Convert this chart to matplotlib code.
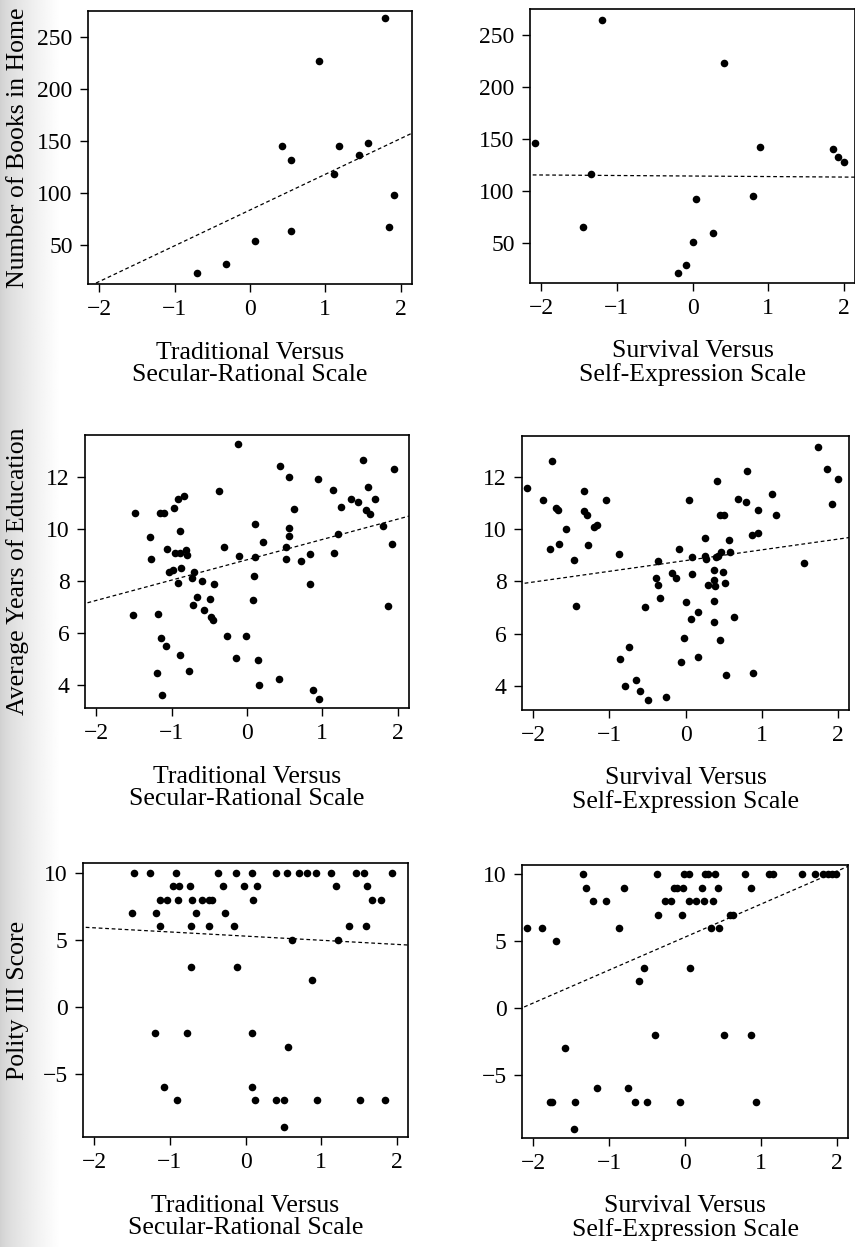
import matplotlib
matplotlib.use('Agg')
import matplotlib.pyplot as plt
import numpy as np

plt.rcParams['font.family'] = ['Liberation Serif', 'DejaVu Serif']

# --- data ---
trad_label = "Traditional Versus\nSecular-Rational Scale"
surv_label = "Survival Versus\nSelf-Expression Scale"

books_trad_x = [-0.71, -0.32, 0.06, 0.42, 0.54, 0.54, 0.91, 1.12, 1.18, 1.44, 1.57, 1.79, 1.84, 1.91]
books_trad_y = [24, 32, 54, 145, 132, 63.5, 227, 119, 145.5, 136.5, 148.7, 268, 68, 98]
books_trad_fit = [84.0, 34.3]

books_surv_x = [-2.09, -1.45, -1.34, -1.20, -0.19, -0.09, 0.00, 0.04, 0.27, 0.42, 0.80, 0.89, 1.86, 1.93, 2.01]
books_surv_y = [145.7, 65.6, 116.7, 264.4, 21, 29, 51, 92.7, 60, 223, 95, 142, 140.6, 132.6, 127.5]
books_surv_fit = [114.3, -0.5]

edu_trad_x = [-1.49, -1.51, -1.29, -1.27, -1.20, -1.18, -1.15, -1.10, -1.13, -1.14,
              -1.08, -1.06, -1.04, -0.98, -0.97, -0.96, -0.91, -0.92, -0.89, -0.89,
              -0.88, -0.89, -0.84, -0.81, -0.80, -0.77, -0.73, -0.71, -0.72, -0.67,
              -0.60, -0.57, -0.49, -0.48, -0.45, -0.44, -0.37, -0.30, -0.27, -0.15,
              -0.12, -0.11, -0.01, 0.08, 0.09, 0.11, 0.11, 0.14, 0.16, 0.21,
              0.42, 0.44, 0.52, 0.52, 0.56, 0.56, 0.56, 0.62, 0.72, 0.83,
              0.84, 0.88, 0.94, 0.95, 1.14, 1.16, 1.21, 1.25, 1.38, 1.47,
              1.54, 1.58, 1.60, 1.63, 1.70, 1.81, 1.87, 1.93, 1.95]
edu_trad_y = [10.60, 6.70, 9.67, 8.85, 4.46, 6.73, 10.60, 10.60, 3.63, 5.82,
              5.51, 9.22, 8.35, 8.43, 10.81, 9.06, 11.14, 7.93, 9.93, 9.06,
              8.51, 5.16, 11.24, 9.20, 9.00, 4.54, 8.10, 8.35, 7.06, 7.40,
              8.00, 6.89, 7.30, 6.61, 6.51, 7.87, 11.45, 9.31, 5.87, 5.05,
              13.25, 8.97, 5.89, 7.28, 8.17, 8.90, 10.18, 4.95, 3.99, 9.48,
              4.23, 12.40, 9.30, 8.84, 11.99, 10.04, 9.73, 10.77, 8.77, 9.03,
              7.89, 3.81, 11.91, 3.48, 11.50, 9.07, 9.81, 10.82, 11.16, 11.03,
              12.63, 10.72, 11.60, 10.58, 11.16, 10.11, 7.05, 9.43, 12.28]
edu_trad_fit = [8.81, 0.78]

edu_surv_x = [-2.09, -1.88, -1.78, -1.75, -1.70, -1.68, -1.66, -1.57, -1.46, -1.44,
              -1.34, -1.34, -1.30, -1.28, -1.20, -1.16, -1.04, -0.88, -0.86, -0.80,
              -0.74, -0.65, -0.60, -0.53, -0.49, -0.39, -0.36, -0.36, -0.34, -0.25,
              -0.18, -0.13, -0.08, -0.06, -0.02, 0.00, 0.05, 0.07, 0.08, 0.09,
              0.16, 0.16, 0.25, 0.26, 0.27, 0.30, 0.37, 0.37, 0.38, 0.38,
              0.39, 0.40, 0.42, 0.43, 0.45, 0.45, 0.47, 0.50, 0.49, 0.52,
              0.53, 0.57, 0.58, 0.64, 0.69, 0.80, 0.81, 0.88, 0.89, 0.95,
              0.95, 1.14, 1.19, 1.56, 1.74, 1.86, 1.93, 2.01]
edu_surv_y = [11.59, 11.13, 9.26, 12.60, 10.82, 10.74, 9.45, 10.00, 8.82, 7.05,
              11.48, 10.70, 10.55, 9.41, 10.09, 10.15, 11.13, 9.04, 5.02, 3.98,
              5.48, 4.21, 3.79, 7.01, 3.47, 8.12, 8.80, 7.87, 7.36, 3.59,
              8.31, 8.15, 9.24, 4.90, 5.85, 7.22, 11.11, 6.58, 8.94, 8.30,
              6.85, 5.11, 8.99, 9.68, 8.85, 7.87, 8.44, 8.05, 7.24, 6.44,
              7.82, 8.95, 11.85, 8.98, 10.55, 5.76, 9.14, 10.55, 8.36, 7.94,
              4.41, 9.59, 9.14, 6.64, 11.17, 11.06, 12.22, 9.77, 4.49, 9.86,
              10.74, 11.36, 10.55, 8.72, 13.15, 12.32, 10.95, 11.91]
edu_surv_fit = [8.80, 0.41]

polity_trad_x = [-1.48, -1.26, -0.92, -0.37, -0.13, 0.08, 0.41, 0.55, 0.71, 0.81, 0.93, 1.13, 1.46, 1.57, 1.94,
                 -0.96, -0.88, -0.73, -0.30, -0.02, 0.15, 1.20, 1.61,
                 -1.13, -1.04, -0.89, -0.71, -0.58, -0.48, -0.44, 0.10, 1.68, 1.79,
                 -1.50, -1.18, -0.66, -0.27,
                 -1.13, -0.72, -0.48, -0.15, 1.37, 1.59,
                 0.62, 1.23,
                 -0.72, -0.11,
                 0.88,
                 -1.20, -0.77, 0.09,
                 0.56,
                 -1.08, 0.09,
                 -0.90, 0.13, 0.41, 0.51, 0.94, 1.52, 1.85,
                 0.51]
polity_trad_y = [10] * 15 + [9] * 8 + [8] * 10 + [7] * 4 + [6] * 6 + [5] * 2 + [3] * 2 + [2] \
                + [-2] * 3 + [-3] + [-6] * 2 + [-7] * 7 + [-9]
polity_trad_fit = [5.28, -0.31]

polity_surv_x = [-1.34, -0.37, -0.01, 0.05, 0.26, 0.30, 0.39, 0.79, 1.11, 1.16, 1.54, 1.71, 1.82, 1.88, 1.94, 1.99,
                 -1.30, -0.80, -0.14, -0.10, -0.03, 0.23, 0.43, 0.87,
                 -1.21, -1.04, -0.27, -0.19, 0.05, 0.14, 0.25, 0.37,
                 -0.35, -0.04, 0.60, 0.63,
                 -2.09, -1.88, -0.87, 0.34, 0.45,
                 -1.70,
                 -0.54, 0.07,
                 -0.61,
                 -0.40, 0.51, 0.87,
                 -1.58,
                 -1.16, -0.75,
                 -1.78, -1.75, -1.45, -0.66, -0.50, -0.07, 0.93,
                 -1.46]
polity_surv_y = [10] * 16 + [9] * 8 + [8] * 8 + [7] * 4 + [6] * 5 + [5] + [3] * 2 + [2] \
                + [-2] * 3 + [-3] + [-6] * 2 + [-7] * 7 + [-9]
polity_surv_fit = [5.31, 2.46]

xticks = [-2, -1, 0, 1, 2]
books_ticks = [50, 100, 150, 200, 250]
edu_ticks = [4, 6, 8, 10, 12]
polity_ticks = [-5, 0, 5, 10]

# panel boxes in pixels: (left, right, top, bottom)
W, H = 855, 1247
panels = [
    ((88, 412, 11, 284), books_trad_x, books_trad_y, books_trad_fit, books_ticks, (13, 275), trad_label, "Number of Books in Home"),
    ((530, 855, 9, 283), books_surv_x, books_surv_y, books_surv_fit, books_ticks, (11.7, 274.5), surv_label, None),
    ((85, 409, 435, 708), edu_trad_x, edu_trad_y, edu_trad_fit, edu_ticks, (3.12, 13.6), trad_label, "Average Years of Education"),
    ((522, 849, 436, 710), edu_surv_x, edu_surv_y, edu_surv_fit, edu_ticks, (3.08, 13.57), surv_label, None),
    ((83, 408, 863, 1137), polity_trad_x, polity_trad_y, polity_trad_fit, polity_ticks, (-9.75, 10.75), trad_label, "Polity III Score"),
    ((522, 848, 865, 1138), polity_surv_x, polity_surv_y, polity_surv_fit, polity_ticks, (-9.7, 10.7), surv_label, None),
]

fig = plt.figure(figsize=(W / 100, H / 100), dpi=100)

# light grey band on the left edge, like the scanned page
bg = fig.add_axes([0, 0, 60 / W, 1], zorder=-10)
shade = np.clip(0.82 + 0.18 * np.linspace(0, 1, 60) ** 0.7, 0, 1)
bg.imshow(np.tile(shade, (10, 1)), cmap='gray', vmin=0, vmax=1, aspect='auto', extent=[0, 1, 0, 1])
bg.axis('off')

for (l, r, t, b), xs, ys, fit, yt, ylim, xlab, ylab in panels:
    ax = fig.add_axes([l / W, 1 - b / H, (r - l) / W, (b - t) / H])
    ax.scatter(xs, ys, s=30, color='black', linewidths=0, zorder=3)
    lx = np.array([-2.2, 2.2])
    ax.plot(lx, fit[0] + fit[1] * lx, color='black', lw=0.9, ls=(0, (3, 2.2)))
    ax.set_xlim(-2.15, 2.15)
    ax.set_ylim(*ylim)
    ax.set_xticks(xticks)
    ax.set_yticks(yt)
    ax.tick_params(direction='out', length=6, width=1, labelsize=17, pad=5, color='black')
    for sp in ax.spines.values():
        sp.set_linewidth(1.2)
    ax.set_xlabel(xlab, fontsize=18.5, linespacing=1.05, va='center')
    ax.xaxis.set_label_coords(0.5, -80 / (b - t))
    if ylab:
        ax.set_ylabel(ylab, fontsize=18.5, va='center')
        ax.yaxis.set_label_coords((18 - l) / (r - l), 0.5)

fig.savefig('out.png', dpi=100, facecolor='white')
